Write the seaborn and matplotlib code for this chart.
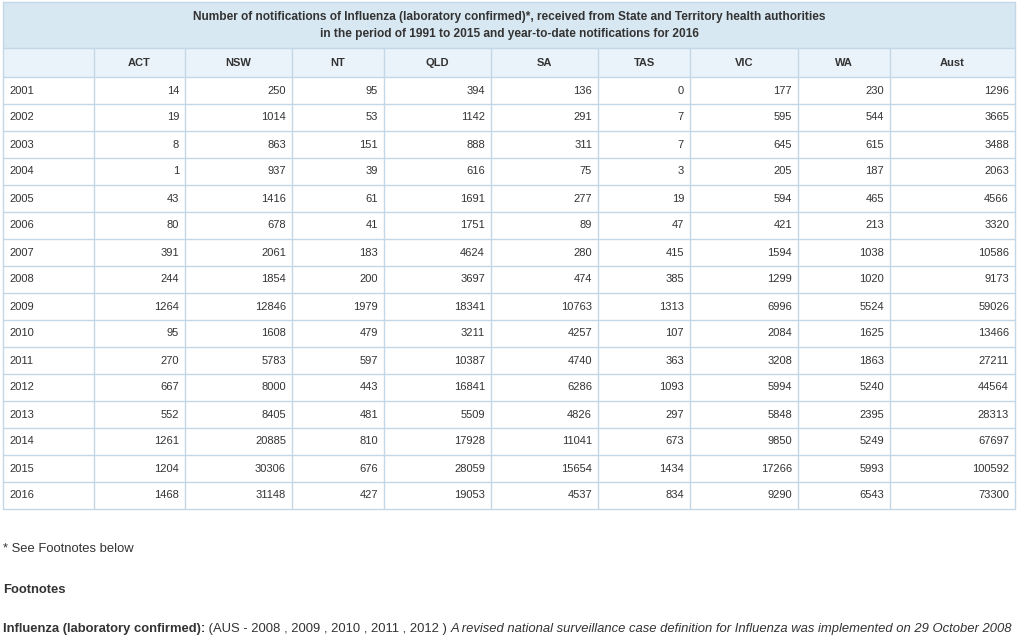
import matplotlib
matplotlib.use('Agg')
import matplotlib.pyplot as plt
import seaborn as sns

# datos de la tabla
years = [2001, 2002, 2003, 2004, 2005, 2006, 2007, 2008,
         2009, 2010, 2011, 2012, 2013, 2014, 2015, 2016]
columns = ["ACT", "NSW", "NT", "QLD", "SA", "TAS", "VIC", "WA", "Aust"]
act = [14, 19, 8, 1, 43, 80, 391, 244, 1264, 95, 270, 667, 552, 1261, 1204, 1468]
nsw = [250, 1014, 863, 937, 1416, 678, 2061, 1854, 12846, 1608, 5783, 8000, 8405, 20885, 30306, 31148]
nt = [95, 53, 151, 39, 61, 41, 183, 200, 1979, 479, 597, 443, 481, 810, 676, 427]
qld = [394, 1142, 888, 616, 1691, 1751, 4624, 3697, 18341, 3211, 10387, 16841, 5509, 17928, 28059, 19053]
sa = [136, 291, 311, 75, 277, 89, 280, 474, 10763, 4257, 4740, 6286, 4826, 11041, 15654, 4537]
tas = [0, 7, 7, 3, 19, 47, 415, 385, 1313, 107, 363, 1093, 297, 673, 1434, 834]
vic = [177, 595, 645, 205, 594, 421, 1594, 1299, 6996, 2084, 3208, 5994, 5848, 9850, 17266, 9290]
wa = [230, 544, 615, 187, 465, 213, 1038, 1020, 5524, 1625, 1863, 5240, 2395, 5249, 5993, 6543]
aust = [1296, 3665, 3488, 2063, 4566, 3320, 10586, 9173, 59026, 13466, 27211, 44564, 28313, 67697, 100592, 73300]

title_lines = [
    "Number of notifications of Influenza (laboratory confirmed)*, received from State and Territory health authorities",
    "in the period of 1991 to 2015 and year-to-date notifications for 2016",
]

sns.set_theme(style="white")
plt.rcParams['font.family'] = ['Liberation Sans', 'DejaVu Sans']

txt = "#333333"
borde = "#c3d7e6"
fondo_titulo = "#d8e8f2"
fondo_cab = "#eaf3f9"

# bordes de columnas (pixeles)
col_x = [3, 94, 185, 292, 384, 491, 598, 690, 798, 890, 1015]
y_top, y_title_end, y_head_end, row_h = 2, 48, 77, 27

fig = plt.figure(figsize=(10.24, 6.38), dpi=100)
ax = fig.add_axes([0, 0, 1, 1])
ax.set_xlim(0, 1024)
ax.set_ylim(638, 0)
ax.axis('off')

n = len(years)
y_bottom = y_head_end + n * row_h

# fondos
ax.fill_between([col_x[0], col_x[-1]], y_top, y_title_end, color=fondo_titulo, lw=0)
ax.fill_between([col_x[0], col_x[-1]], y_title_end, y_head_end, color=fondo_cab, lw=0)

# lineas horizontales
for y in [y_top, y_title_end] + [y_head_end + i * row_h for i in range(n + 1)]:
    ax.plot([col_x[0], col_x[-1]], [y, y], color=borde, lw=1)
# lineas verticales
ax.plot([col_x[0], col_x[0]], [y_top, y_bottom], color=borde, lw=1)
ax.plot([col_x[-1], col_x[-1]], [y_top, y_bottom], color=borde, lw=1)
for x in col_x[1:-1]:
    ax.plot([x, x], [y_title_end, y_bottom], color=borde, lw=1)

# titulo
xc = (col_x[0] + col_x[-1]) / 2
ax.text(xc, 17, title_lines[0], ha='center', va='center', fontsize=8.6,
        fontweight='bold', color=txt)
ax.text(xc, 34, title_lines[1], ha='center', va='center', fontsize=8.6,
        fontweight='bold', color=txt)

# cabecera
for j, c in enumerate(columns):
    ax.text((col_x[j + 1] + col_x[j + 2]) / 2, 62.5, c, ha='center', va='center',
            fontsize=8, fontweight='bold', color=txt)

datos = [act, nsw, nt, qld, sa, tas, vic, wa, aust]
for i, yr in enumerate(years):
    yc = y_head_end + i * row_h + row_h / 2
    ax.text(col_x[0] + 6, yc, str(yr), ha='left', va='center', fontsize=8, color=txt)
    for j, serie in enumerate(datos):
        ax.text(col_x[j + 2] - 6, yc, str(serie[i]), ha='right', va='center',
                fontsize=8, color=txt)

# notas al pie
fs_nota = 9.4
ax.text(3, 549, "* See Footnotes below", ha='left', va='center', fontsize=fs_nota, color=txt)
ax.text(3, 590, "Footnotes", ha='left', va='center', fontsize=fs_nota, fontweight='bold', color=txt)

t1 = ax.text(3, 629, "Influenza (laboratory confirmed):", ha='left', va='center',
             fontsize=fs_nota, fontweight='bold', color=txt)
t2 = ax.annotate(" (AUS - 2008 , 2009 , 2010 , 2011 , 2012 ) ", xy=(1, 0), xycoords=t1,
                 ha='left', va='bottom', fontsize=fs_nota, color=txt)
ax.annotate("A revised national surveillance case definition for Influenza was implemented on 29 October 2008",
            xy=(1, 0), xycoords=t2, ha='left', va='bottom', fontsize=fs_nota,
            style='italic', color=txt)

plt.savefig("out.png", dpi=100)
plt.close()
